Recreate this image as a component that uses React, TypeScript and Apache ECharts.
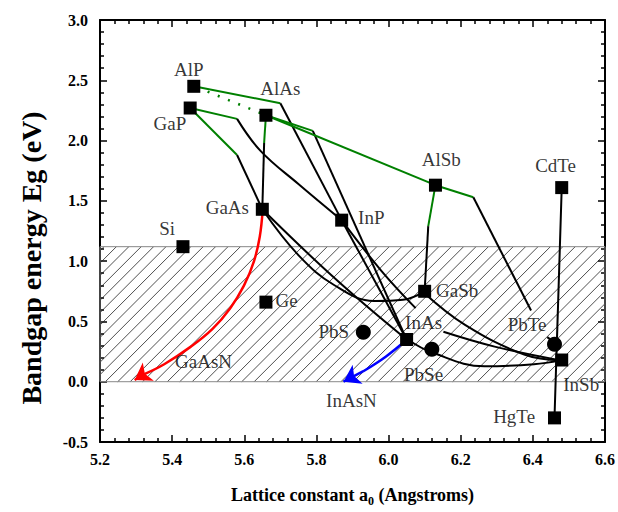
import React, { useEffect, useRef } from 'react';
import * as echarts from 'echarts';

// ---------- axes ----------
const X_MIN = 5.2;
const X_MAX = 6.6;
const Y_MIN = -0.5;
const Y_MAX = 3.0;
const xTickLabels = ['5.2', '5.4', '5.6', '5.8', '6.0', '6.2', '6.4', '6.6'];
const yTickLabels = ['-0.5', '0.0', '0.5', '1.0', '1.5', '2.0', '2.5', '3.0'];
const yTitle = 'Bandgap energy Eg (eV)';

// ---------- materials (squares) ----------
const squareNames = ['AlP', 'GaP', 'AlAs', 'GaAs', 'InP', 'AlSb', 'CdTe', 'Si', 'Ge', 'GaSb', 'InAs', 'InSb', 'HgTe'];
const squareLattice = [5.46, 5.45, 5.66, 5.65, 5.87, 6.13, 6.48, 5.43, 5.66, 6.10, 6.05, 6.48, 6.46];
const squareGap = [2.45, 2.27, 2.21, 1.43, 1.34, 1.63, 1.61, 1.12, 0.66, 0.75, 0.35, 0.18, -0.30];

// ---------- lead salts (circles) ----------
const circleNames = ['PbS', 'PbSe', 'PbTe'];
const circleLattice = [5.93, 6.12, 6.46];
const circleGap = [0.41, 0.27, 0.31];

// ---------- text labels ----------
const labelNames = ['AlP', 'GaP', 'AlAs', 'GaAs', 'InP', 'AlSb', 'CdTe', 'Si', 'Ge', 'GaAsN', 'PbS', 'InAsN', 'GaSb', 'InAs', 'PbSe', 'PbTe', 'InSb', 'HgTe'];
const labelX = [5.446, 5.394, 5.700, 5.553, 5.952, 6.146, 6.463, 5.386, 5.717, 5.487, 5.848, 5.897, 6.190, 6.097, 6.097, 6.384, 6.534, 6.348];
const labelY = [2.592, 2.143, 2.429, 1.442, 1.360, 1.841, 1.793, 1.270, 0.675, 0.169, 0.414, -0.157, 0.756, 0.487, 0.063, 0.471, -0.019, -0.288];

// ---------- Si bandgap band ----------
const siBand = [0, 1.12];

// ---------- alloy lines ----------
const alpAlasDotted = [[5.47, 2.44], [5.66, 2.21]];
const alpInpGreen = [[5.46, 2.45], [5.70, 2.31]];
const alpInpBlack = [[5.70, 2.31], [5.87, 1.34]];
const gapInpGreen = [[5.45, 2.27], [5.58, 2.18]];
const gapInpBlack = [[5.58, 2.18], [5.645, 1.915], [5.75, 1.64], [5.87, 1.34]];
const gapGaasGreen = [[5.45, 2.27], [5.58, 1.88]];
const gapGaasBlack = [[5.58, 1.88], [5.65, 1.43]];
const alasGaasGreen = [[5.66, 2.21], [5.655, 1.98]];
const alasGaasBlack = [[5.655, 1.98], [5.65, 1.43]];
const alasInasGreen = [[5.66, 2.21], [5.79, 2.08]];
const alasInasBlack = [[5.79, 2.08], [6.05, 0.35]];
const alasAlsbGreen = [[5.66, 2.21], [6.13, 1.63]];
const alsbInsbGreen = [[6.13, 1.63], [6.235, 1.53]];
const alsbInsbBlack = [[6.235, 1.53], [6.395, 0.59]];
const alsbInsbTail = [[6.44, 0.37], [6.463, 0.316]];
const alsbGasbGreen = [[6.13, 1.63], [6.11, 1.29]];
const alsbGasbBlack = [[6.11, 1.29], [6.10, 0.75]];
const cdteHgte = [[6.48, 1.61], [6.46, -0.30]];
const gaasInas = [[5.65, 1.43], [5.85, 0.86], [6.05, 0.35]];
const inpInas = [[5.87, 1.34], [6.05, 0.35]];
const gaasGasb = [[5.65, 1.43], [5.75, 1.05], [5.85, 0.80], [5.96, 0.67], [6.04, 0.68], [6.10, 0.75]];
const gasbInsb = [[6.094, 0.748], [6.212, 0.471], [6.376, 0.226], [6.477, 0.177]];
const inasInsb = [[6.053, 0.35], [6.121, 0.242], [6.266, 0.128], [6.403, 0.145], [6.477, 0.177]];
const inpInsbUpper = [[5.87, 1.34], [5.98, 0.92], [6.075, 0.61]];
const inpInsbLower = [[6.152, 0.414], [6.294, 0.291], [6.477, 0.177]];
const gaasN = [[5.651, 1.425], [5.643, 1.205], [5.627, 1.001], [5.599, 0.797], [5.561, 0.61], [5.512, 0.438], [5.452, 0.291], [5.378, 0.145], [5.323, 0.063], [5.296, 0.014]];
const inasN = [[6.05, 0.348], [5.993, 0.21], [5.93, 0.087], [5.875, 0.0]];

const GREEN = '#008000';
const BLACK = '#000000';
const SERIF = '"Liberation Serif", "Times New Roman", serif';

function lineSeries(data: number[][], color: string, smooth = false, type: any = 'solid', width = 2) {
  return {
    type: 'line',
    data,
    symbol: 'none',
    smooth: smooth ? 0.4 : false,
    lineStyle: { color, width, type },
    z: 3,
    silent: true,
  };
}

function arrowSeries(data: number[][], color: string) {
  const n = data.length;
  return {
    type: 'lines',
    coordinateSystem: 'cartesian2d',
    data: [{ coords: [data[n - 2], data[n - 1]] }],
    symbol: ['none', 'arrow'],
    symbolSize: [12, 16],
    lineStyle: { color, width: 2.5, opacity: 1 },
    z: 4,
    silent: true,
  };
}

export default function App() {
  const ref = useRef<HTMLDivElement>(null);
  useEffect(() => {
    if (!ref.current) return;
    const chart = echarts.init(ref.current, undefined, { renderer: 'svg' });
    const fmt = (labels: string[]) => (v: number) => labels.find((l) => Math.abs(parseFloat(l) - v) < 1e-6) ?? '';

    const axisCommon = {
      axisLine: { show: true, onZero: false, lineStyle: { color: '#000', width: 2 } },
      axisTick: { show: true, inside: true, length: 7, lineStyle: { color: '#000', width: 1.5 } },
      minorTick: { show: true, splitNumber: 5, length: 4, lineStyle: { color: '#000', width: 1.5 } },
      splitLine: { show: false },
    };

    const option: any = {
      animation: false,
      backgroundColor: '#fff',
      grid: { left: 100, right: 6, top: 20, bottom: 63, containLabel: false },
      graphic: [
        {
          type: 'text',
          x: 31,
          y: 258,
          rotation: Math.PI / 2,
          style: {
            text: yTitle,
            fill: '#000',
            font: `bold 28px ${SERIF}`,
            align: 'center',
            verticalAlign: 'middle',
          },
        },
      ],
      xAxis: [
        {
          type: 'value', min: X_MIN, max: X_MAX, interval: 0.2, position: 'bottom',
          ...axisCommon,
          axisLabel: { color: '#000', fontFamily: SERIF, fontWeight: 'bold', fontSize: 16, margin: 9, formatter: fmt(xTickLabels) },
          name: 'Lattice constant a{sub|0} (Angstroms)',
          nameLocation: 'middle', nameGap: 41,
          nameTextStyle: {
            color: '#000', fontFamily: SERIF, fontWeight: 'bold', fontSize: 18,
            rich: { sub: { fontFamily: SERIF, fontWeight: 'bold', fontSize: 12, padding: [12, 0, 0, 0], color: '#000' } },
          },
        },
        {
          type: 'value', min: X_MIN, max: X_MAX, interval: 0.2, position: 'top',
          ...axisCommon, axisLabel: { show: false },
        },
      ],
      yAxis: [
        {
          type: 'value', min: Y_MIN, max: Y_MAX, interval: 0.5, position: 'left',
          ...axisCommon,
          axisLabel: { color: '#000', fontFamily: SERIF, fontWeight: 'bold', fontSize: 16, margin: 12, formatter: fmt(yTickLabels) },
        },
        {
          type: 'value', min: Y_MIN, max: Y_MAX, interval: 0.5, position: 'right',
          ...axisCommon, axisLabel: { show: false },
        },
      ],
      series: [
        {
          type: 'custom',
          coordinateSystem: 'cartesian2d',
          data: [[X_MIN, siBand[0], X_MAX, siBand[1]]],
          z: 1,
          silent: true,
          renderItem: (params: any, api: any) => {
            const p0 = api.coord([api.value(0), api.value(3)]);
            const p1 = api.coord([api.value(2), api.value(1)]);
            const x0 = p0[0], yt = p0[1], x1 = p1[0], yb = p1[1];
            const children: any[] = [];
            const step = 12.4;
            for (let k = x0 + yt + 4; k < x1 + yb; k += step) {
              const xs = Math.max(x0, k - yb);
              const xe = Math.min(x1, k - yt);
              if (xe > xs) {
                children.push({
                  type: 'line',
                  shape: { x1: xs, y1: k - xs, x2: xe, y2: k - xe },
                  style: { stroke: '#222', lineWidth: 0.8 },
                });
              }
            }
            children.push({
              type: 'rect',
              shape: { x: x0, y: yt, width: x1 - x0, height: yb - yt },
              style: { fill: 'none', stroke: '#888', lineWidth: 1 },
            });
            return { type: 'group', children };
          },
        },
        lineSeries(alpAlasDotted, GREEN, false, [2, 9], 2.5),
        lineSeries(alpInpGreen, GREEN),
        lineSeries(alpInpBlack, BLACK),
        lineSeries(gapInpGreen, GREEN),
        lineSeries(gapInpBlack, BLACK, true),
        lineSeries(gapGaasGreen, GREEN),
        lineSeries(gapGaasBlack, BLACK),
        lineSeries(alasGaasGreen, GREEN),
        lineSeries(alasGaasBlack, BLACK),
        lineSeries(alasInasGreen, GREEN),
        lineSeries(alasInasBlack, BLACK),
        lineSeries(alasAlsbGreen, GREEN),
        lineSeries(alsbInsbGreen, GREEN),
        lineSeries(alsbInsbBlack, BLACK),
        lineSeries(alsbInsbTail, BLACK),
        lineSeries(alsbGasbGreen, GREEN),
        lineSeries(alsbGasbBlack, BLACK),
        lineSeries(cdteHgte, BLACK),
        lineSeries(gaasInas, BLACK, true),
        lineSeries(inpInas, BLACK),
        lineSeries(gaasGasb, BLACK, true),
        lineSeries(gasbInsb, BLACK, true),
        lineSeries(inasInsb, BLACK, true),
        lineSeries(inpInsbUpper, BLACK, true),
        lineSeries(inpInsbLower, BLACK, true),
        lineSeries(gaasN.slice(0, gaasN.length - 1), '#ff0000', true, 'solid', 2.5),
        arrowSeries(gaasN, '#ff0000'),
        lineSeries(inasN.slice(0, inasN.length - 1), '#0000ff', true, 'solid', 2.5),
        arrowSeries(inasN, '#0000ff'),
        {
          type: 'scatter',
          data: squareNames.map((n, i) => ({ name: n, value: [squareLattice[i], squareGap[i]] })),
          symbol: 'rect',
          symbolSize: 13,
          itemStyle: { color: '#000', opacity: 1 },
          z: 5,
          silent: true,
        },
        {
          type: 'scatter',
          data: circleNames.map((n, i) => ({ name: n, value: [circleLattice[i], circleGap[i]] })),
          symbol: 'circle',
          symbolSize: 15,
          itemStyle: { color: '#000', opacity: 1 },
          z: 5,
          silent: true,
        },
        {
          type: 'scatter',
          data: labelNames.map((n, i) => ({ name: n, value: [labelX[i], labelY[i]] })),
          symbol: 'circle',
          symbolSize: 2,
          itemStyle: { color: 'rgba(0,0,0,0)' },
          z: 6,
          silent: true,
          label: {
            show: true,
            position: 'inside',
            formatter: (p: any) => p.name,
            color: '#000',
            fontFamily: SERIF,
            fontSize: 19,
          },
        },
      ],
    };
    chart.setOption(option);
    return () => chart.dispose();
  }, []);
  return <div ref={ref} style={{ position: 'absolute', left: 0, top: 0, width: 618, height: 512 }} />;
}
